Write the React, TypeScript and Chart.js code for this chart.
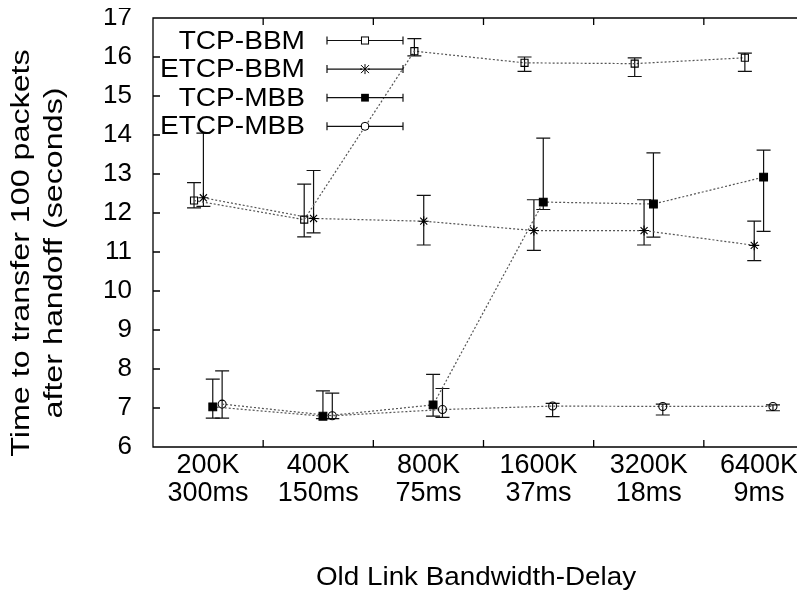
import React, { useEffect, useRef } from "react";
import { Chart, registerables } from "chart.js";

Chart.register(...registerables);

// ---- data ----
const categories: string[][] = [
  ["200K", "300ms"],
  ["400K", "150ms"],
  ["800K", "75ms"],
  ["1600K", "37ms"],
  ["3200K", "18ms"],
  ["6400K", "9ms"],
];
const seriesNames = ["TCP-BBM", "ETCP-BBM", "TCP-MBB", "ETCP-MBB"];

const tcpBbmMean = [12.32, 11.83, 16.15, 15.85, 15.83, 15.98];
const tcpBbmLow = [12.13, 11.39, 16.03, 15.63, 15.5, 15.63];
const tcpBbmHigh = [12.78, 12.74, 16.47, 16.0, 15.98, 16.1];

const etcpBbmMean = [12.39, 11.86, 11.79, 11.55, 11.55, 11.17];
const etcpBbmLow = [12.17, 11.49, 11.18, 11.04, 11.18, 10.78];
const etcpBbmHigh = [14.05, 13.09, 12.45, 12.34, 12.34, 11.79];

const tcpMbbMean = [7.03, 6.79, 7.08, 12.28, 12.23, 12.92];
const tcpMbbLow = [6.74, 6.73, 6.79, 12.09, 11.38, 11.53];
const tcpMbbHigh = [7.74, 7.44, 7.86, 13.92, 13.54, 13.61];

const etcpMbbMean = [7.1, 6.8, 6.96, 7.05, 7.04, 7.04];
const etcpMbbLow = [6.74, 6.73, 6.76, 6.78, 6.82, 6.93];
const etcpMbbHigh = [7.95, 7.38, 7.5, 7.12, 7.1, 7.08];

const yTicks = [6, 7, 8, 9, 10, 11, 12, 13, 14, 15, 16, 17];
const xTitle = "Old Link Bandwidth-Delay";
const yTitle = ["Time to transfer 100 packets", "after handoff (seconds)"];

// ---- styling ----
const FONT = "'Liberation Sans', Arial, Helvetica, sans-serif";
const FS = 26;
const groupOffsets = [-0.1275, -0.0425, 0.0425, 0.1275];
const means = [tcpBbmMean, etcpBbmMean, tcpMbbMean, etcpMbbMean];
const lows = [tcpBbmLow, etcpBbmLow, tcpMbbLow, etcpMbbLow];
const highs = [tcpBbmHigh, etcpBbmHigh, tcpMbbHigh, etcpMbbHigh];
const markerStyles = ["rect", "star", "rect", "circle"];
const markerFill = ["rgba(0,0,0,0)", "rgba(0,0,0,0)", "#000", "rgba(0,0,0,0)"];
const markerRadius = [5, 5, 5.5, 4];

function drawMarker(ctx: CanvasRenderingContext2D, k: number, x: number, y: number) {
  ctx.save();
  ctx.strokeStyle = "#000";
  ctx.fillStyle = "#000";
  ctx.lineWidth = 1;
  const r = markerRadius[k];
  if (k === 0) {
    const s = r * Math.SQRT1_2;
    ctx.strokeRect(x - s, y - s, 2 * s, 2 * s);
  } else if (k === 2) {
    const s = r * Math.SQRT1_2;
    ctx.fillRect(x - s, y - s, 2 * s, 2 * s);
  } else if (k === 3) {
    ctx.beginPath();
    ctx.arc(x, y, r, 0, Math.PI * 2);
    ctx.stroke();
  } else {
    ctx.beginPath();
    const d = r * 0.8;
    ctx.moveTo(x - d, y - d); ctx.lineTo(x + d, y + d);
    ctx.moveTo(x + d, y - d); ctx.lineTo(x - d, y + d);
    ctx.moveTo(x, y - r); ctx.lineTo(x, y + r);
    ctx.moveTo(x - r, y); ctx.lineTo(x + r, y);
    ctx.stroke();
  }
  ctx.restore();
}

const framePlugin = {
  id: "gnuFrame",
  beforeDatasetsDraw(chart: any) {
    const ctx: CanvasRenderingContext2D = chart.ctx;
    const xs = chart.scales.x;
    const ys = chart.scales.y;
    ctx.save();
    ctx.strokeStyle = "#111";
    ctx.lineWidth = 1.2;
    for (let k = 0; k < means.length; k++) {
      for (let i = 0; i < means[k].length; i++) {
        const px = xs.getPixelForValue(i + 0.5 + groupOffsets[k]);
        const lo = ys.getPixelForValue(lows[k][i]);
        const hi = ys.getPixelForValue(highs[k][i]);
        ctx.beginPath();
        ctx.moveTo(px, lo); ctx.lineTo(px, hi);
        ctx.moveTo(px - 7, lo); ctx.lineTo(px + 7, lo);
        ctx.moveTo(px - 7, hi); ctx.lineTo(px + 7, hi);
        ctx.stroke();
      }
    }
    ctx.restore();
  },
  afterDraw(chart: any) {
    const ctx: CanvasRenderingContext2D = chart.ctx;
    const { left, top, bottom } = chart.chartArea;
    const right = chart.width;
    const xs = chart.scales.x;
    const ys = chart.scales.y;
    ctx.save();
    ctx.strokeStyle = "#000";
    ctx.lineWidth = 1.3;
    ctx.beginPath();
    ctx.moveTo(right, top); ctx.lineTo(left, top); ctx.lineTo(left, bottom); ctx.lineTo(right, bottom);
    yTicks.forEach((v) => {
      const py = ys.getPixelForValue(v);
      ctx.moveTo(left, py); ctx.lineTo(left + 7, py);
    });
    for (let i = 1; i < categories.length; i++) {
      const px = xs.getPixelForValue(i);
      ctx.moveTo(px, bottom); ctx.lineTo(px, bottom - 7);
      ctx.moveTo(px, top); ctx.lineTo(px, top + 7);
    }
    ctx.stroke();

    // legend (gnuplot style)
    ctx.fillStyle = "#000";
    ctx.font = `${FS}px ${FONT}`;
    ctx.textBaseline = "middle";
    const textRight = left + 152;
    const sx0 = left + 174;
    const sx1 = left + 250;
    const smid = left + 212;
    seriesNames.forEach((name, k) => {
      const ry = top + 22.5 + k * 28.6;
      ctx.save();
      ctx.translate(textRight, ry + 1);
      ctx.scale(1.08, 1);
      ctx.textAlign = "right";
      ctx.fillText(name, 0, 0);
      ctx.restore();
      ctx.lineWidth = 1.2;
      ctx.strokeStyle = "#111";
      ctx.beginPath();
      ctx.moveTo(sx0, ry); ctx.lineTo(sx1, ry);
      ctx.moveTo(sx0, ry - 4); ctx.lineTo(sx0, ry + 4);
      ctx.moveTo(sx1, ry - 4); ctx.lineTo(sx1, ry + 4);
      ctx.stroke();
      if (k !== 2) {
        ctx.fillStyle = "#fff";
        ctx.fillRect(smid - 3, ry - 3, 6, 6);
        ctx.fillStyle = "#000";
      }
      drawMarker(ctx, k, smid, ry);
    });

    // x title
    ctx.save();
    ctx.translate(468, 600);
    ctx.scale(1.07, 1);
    ctx.textAlign = "center";
    ctx.fillText(xTitle, 0, 0);
    ctx.restore();

    // y title (rotated, two lines)
    ctx.save();
    ctx.translate(0, 275);
    ctx.rotate(-Math.PI / 2);
    ctx.scale(1.24, 1);
    ctx.textAlign = "center";
    ctx.fillText(yTitle[0], 0, 14);
    ctx.fillText(yTitle[1], 0, 47);
    ctx.restore();

    ctx.restore();
  },
};

export default function App() {
  const ref = useRef<HTMLCanvasElement>(null);
  useEffect(() => {
    if (!ref.current) return;
    const datasets = seriesNames.map((name, k) => ({
      label: name,
      data: means[k].map((m, i) => ({ x: i + 0.5 + groupOffsets[k], y: m })),
      showLine: true,
      borderColor: "#555",
      borderWidth: 1.2,
      borderDash: [2, 2],
      pointStyle: markerStyles[k] as any,
      pointRadius: markerRadius[k],
      pointBorderColor: "#000",
      pointBackgroundColor: markerFill[k],
      pointBorderWidth: 1.1,
      fill: false,
    }));
    const chart = new Chart(ref.current, {
      type: "scatter",
      data: { datasets },
      plugins: [framePlugin],
      options: {
        animation: false,
        responsive: false,
        maintainAspectRatio: false,
        layout: { padding: { top: 40, right: 24, left: 0, bottom: 0 } },
        plugins: { legend: { display: false }, tooltip: { enabled: false } },
        scales: {
          x: {
            type: "linear",
            min: 0,
            max: categories.length,
            grid: { display: false, drawTicks: false },
            border: { display: false },
            afterBuildTicks: (s: any) => {
              s.ticks = categories.map((_, i) => ({ value: i + 0.5 }));
            },
            afterFit: (s: any) => {
              s.height = 171;
            },
            ticks: {
              autoSkip: false,
              maxRotation: 0,
              minRotation: 0,
              padding: 4,
              color: "#000",
              font: { family: FONT, size: 27, lineHeight: 1.05 },
              callback: (_v: any, i: number) => categories[i],
            },
          },
          y: {
            type: "linear",
            min: 6,
            max: 17,
            grid: { display: false, drawTicks: false },
            border: { display: false },
            afterBuildTicks: (s: any) => {
              s.ticks = yTicks.map((v) => ({ value: v }));
            },
            afterFit: (s: any) => {
              s.width = 145;
            },
            ticks: {
              padding: 21,
              color: "#000",
              font: { family: FONT, size: FS },
              callback: (v: any) => String(v),
            },
          },
        },
      },
    });
    return () => chart.destroy();
  }, []);
  return (
    <div style={{ position: "relative", width: 797, height: 586, overflow: "hidden" }}>
      <canvas ref={ref} width={830} height={640} style={{ position: "absolute", left: 0, top: -30 }} />
    </div>
  );
}
